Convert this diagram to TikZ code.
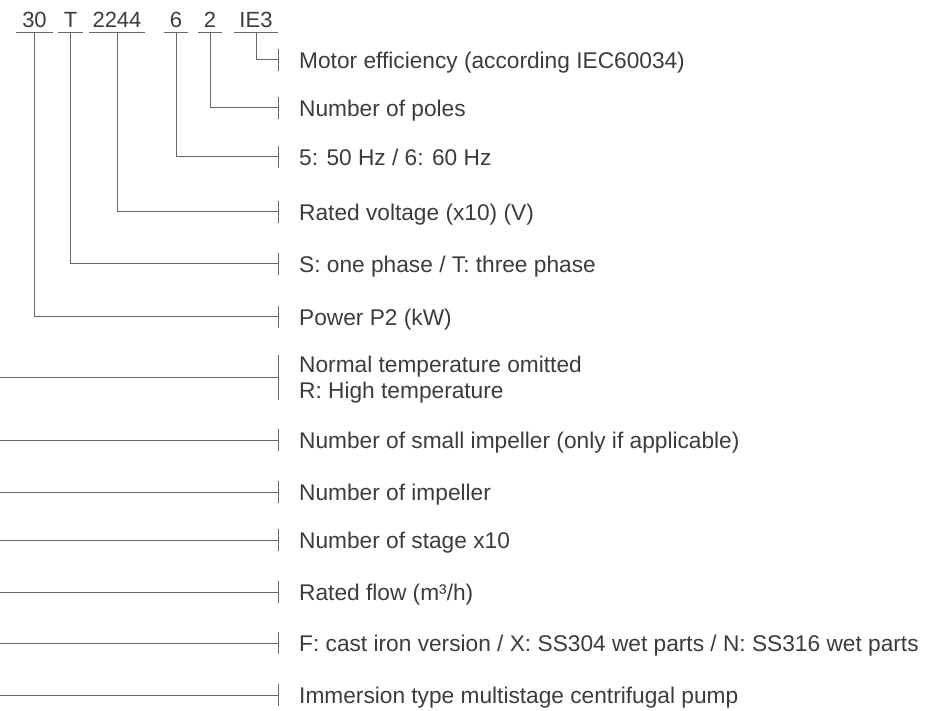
\documentclass[tikz,border=0pt]{standalone}
\usepackage{fontspec}
\setmainfont{Liberation Sans}
\usetikzlibrary{positioning}
\definecolor{txtgray}{HTML}{3C3C3C}
\definecolor{linegray}{HTML}{666666}
\tikzset{
  code/.style={inner xsep=0pt, inner ysep=5pt, anchor=south, text height=15.8pt, text depth=0pt,
    font=\fontsize{22}{26}\selectfont, text=txtgray},
  desc/.style={inner sep=0pt, text height=16.2pt, text depth=0pt,
    font=\fontsize{22.7}{26}\selectfont, text=txtgray},
  lead/.style={draw=linegray, line width=1pt},
}
\begin{document}
\begin{tikzpicture}[x=1pt,y=-1pt]
\useasboundingbox (0,0) rectangle (935,711);
\node[code, minimum width=37pt] (c30) at (34.5,32.5) {30};
\node[code, minimum width=25pt] (cT) at (70.5,32.5) {T};
\node[code, minimum width=56pt] (c2244) at (117,32.5) {2244};
\node[code, minimum width=24pt] (c6) at (176,32.5) {6};
\node[code, minimum width=24pt] (c2) at (210,32.5) {2};
\node[code, minimum width=44pt] (cIE3) at (256,32.5) {IE3};
\foreach \c in {c30,cT,c2244,c6,c2,cIE3}
\draw[lead] (\c.south west) -- (\c.south east);
\foreach \n/\y in {1/60,2/108,3/157,4/212,5/264,6/317,7/378,8/440,9/492,10/540,11/592,12/643,13/695}
\coordinate (t\n) at (278,\y);
\foreach \n/\y in {7/378,8/440,9/492,10/540,11/592,12/643,13/695}
\coordinate (e\n) at (0,\y);
\node[desc, right=21pt of t1] (d1) {Motor efficiency (according IEC60034)};
\node[desc, right=21pt of t2] (d2) {Number of poles};
\node[desc, right=21pt of t3] (d3) {5: 50 Hz / 6: 60 Hz};
\node[desc, right=21pt of t4] (d4) {Rated voltage (x10) (V)};
\node[desc, right=21pt of t5] (d5) {S: one phase / T: three phase};
\node[desc, right=21pt of t6] (d6) {Power P2 (kW)};
\node[desc, right=21pt of t7, yshift=13.5pt] (d7) {Normal temperature omitted};
\node[desc, below=9.8pt of d7.south west, anchor=north west] (d7b) {R: High temperature};
\node[desc, right=21pt of t8] (d8) {Number of small impeller (only if applicable)};
\node[desc, right=21pt of t9] (d9) {Number of impeller};
\node[desc, right=21pt of t10] (d10) {Number of stage x10};
\node[desc, right=21pt of t11] (d11) {Rated flow (m³/h)};
\node[desc, right=21pt of t12] (d12) {F: cast iron version / X: SS304 wet parts / N: SS316 wet parts};
\node[desc, right=21pt of t13] (d13) {Immersion type multistage centrifugal pump};
\draw[lead] (cIE3.south) |- (t1);
\draw[lead] (c2.south) |- (t2);
\draw[lead] (c6.south) |- (t3);
\draw[lead] (c2244.south) |- (t4);
\draw[lead] (cT.south) |- (t5);
\draw[lead] (c30.south) |- (t6);
\foreach \n in {7,...,13}
\draw[lead] (e\n) -- (t\n);
\foreach \n in {1,...,6,8,9,10,11,12,13}
\draw[lead] ([yshift=11pt]t\n) -- ([yshift=-11pt]t\n);
\draw[lead] ([yshift=22.5pt]t7) -- ([yshift=-22.5pt]t7);
\end{tikzpicture}
\end{document}
